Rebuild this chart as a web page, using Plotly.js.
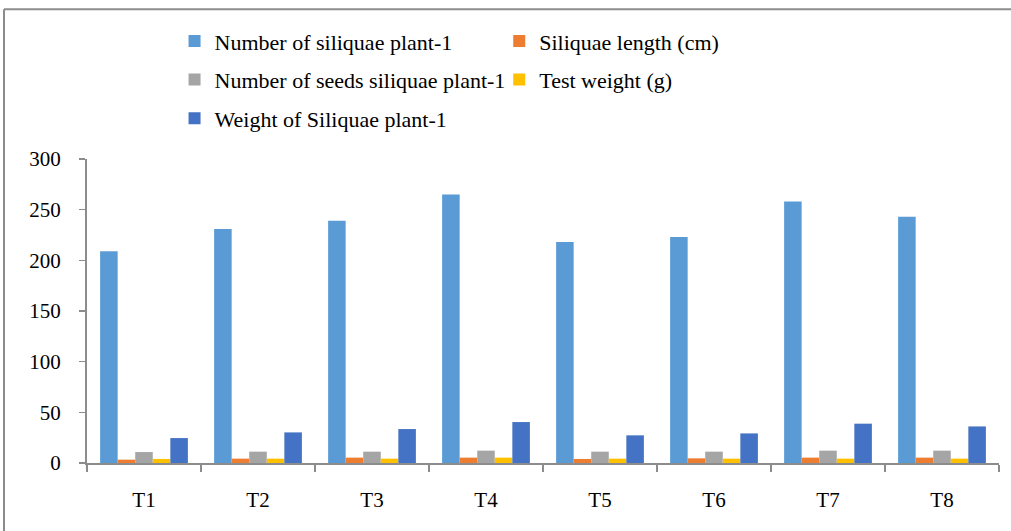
<!DOCTYPE html>
<html>
<head>
<meta charset="utf-8">
<script src="https://cdn.plot.ly/plotly-3.0.1.min.js"></script>
<style>html,body{margin:0;padding:0;background:#fff;}#chart{width:1011px;height:531px;}</style>
</head>
<body>
<div id="chart"></div>
<script>
const categories = ['T1','T2','T3','T4','T5','T6','T7','T8'];
const seriesNames = ['Number of siliquae plant-1','Siliquae length (cm)','Number of seeds siliquae plant-1','Test weight (g)','Weight of Siliquae plant-1'];
const numSiliquae = [209, 231, 239, 265, 218, 223, 258, 243];
const siliquaeLength = [3.3, 4.3, 5.3, 5.3, 4.0, 4.6, 5.3, 5.3];
const numSeeds = [10.8, 11.2, 11.2, 12.2, 11.2, 11.2, 12.2, 12.2];
const testWeight = [4.0, 4.3, 4.3, 5.3, 4.3, 4.3, 4.3, 4.3];
const weightSiliquae = [24.6, 30.2, 33.5, 40.4, 27.3, 29.2, 38.8, 36.1];
const yTicks = [0, 50, 100, 150, 200, 250, 300];

const colors = ['#5B9BD5','#ED7D31','#A5A5A5','#FFC000','#4472C4'];
const values = [numSiliquae, siliquaeLength, numSeeds, testWeight, weightSiliquae];
const legendFor = ['legend','legend2','legend','legend2','legend'];

const traces = values.map((v, i) => ({
  type: 'bar',
  name: seriesNames[i],
  x: categories,
  y: v,
  marker: {color: colors[i], line: {width: 0}},
  legend: legendFor[i],
  legendgroup: 'g' + i,
  hoverinfo: 'x+y+name'
}));

const FAMILY = 'Liberation Serif, Times New Roman, serif';
const font = {family: FAMILY, color: '#000', size: 21};

const legendCommon = {
  orientation: 'v',
  xanchor: 'left',
  yanchor: 'top',
  font: {family: FAMILY, color: '#000', size: 22},
  bgcolor: 'rgba(0,0,0,0)',
  tracegroupgap: 7,
  itemwidth: 30
};

const layout = {
  width: 1011,
  height: 531,
  margin: {l: 87, r: 12, t: 159, b: 68, autoexpand: false},
  paper_bgcolor: '#fff',
  plot_bgcolor: '#fff',
  font: font,
  barmode: 'group',
  bargap: 0.23,
  bargroupgap: 0,
  showlegend: true,
  legend: Object.assign({}, legendCommon, {x: 0.096, y: 1.4566}),
  legend2: Object.assign({}, legendCommon, {x: 0.452, y: 1.4566}),
  xaxis: {
    type: 'category',
    showline: true,
    linecolor: '#8c8c8c',
    linewidth: 1.5,
    ticks: 'outside',
    tickson: 'boundaries',
    ticklen: 7,
    tickcolor: '#8c8c8c',
    tickwidth: 1.5,
    ticklabelstandoff: 17,
    showgrid: false,
    zeroline: false,
    tickfont: font
  },
  yaxis: {
    range: [0, 300],
    tickvals: yTicks,
    ticktext: yTicks.map(String),
    showline: true,
    linecolor: '#8c8c8c',
    linewidth: 2,
    ticks: 'outside',
    ticklen: 6,
    tickcolor: '#8c8c8c',
    tickwidth: 1.5,
    ticklabelstandoff: 14,
    showgrid: false,
    zeroline: false,
    tickfont: font
  },
  shapes: [
    {type: 'line', xref: 'paper', yref: 'paper', x0: -0.091, x1: 1.05, y0: 1.493, y1: 1.493,
     line: {color: '#8c8c8c', width: 2}},
    {type: 'line', xref: 'paper', yref: 'paper', x0: -0.091, x1: -0.091, y0: 1.493, y1: -0.3,
     line: {color: '#8c8c8c', width: 2}}
  ]
};

Plotly.newPlot('chart', traces, layout, {displayModeBar: false, staticPlot: true});
</script>
</body>
</html>
